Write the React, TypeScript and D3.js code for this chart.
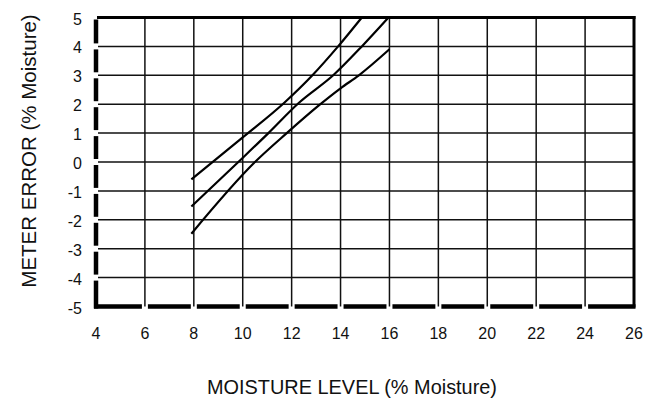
import React from 'react';
import * as d3 from 'd3';

const xTicks = [4, 6, 8, 10, 12, 14, 16, 18, 20, 22, 24, 26];
const yTicks = [-5, -4, -3, -2, -1, 0, 1, 2, 3, 4, 5];

// three error curves
const upperX = [7.9, 10, 11.7, 12.85, 13.9, 14.87];
const upperY = [-0.6, 0.85, 2.05, 3, 4, 5];
const middleX = [7.9, 9.82, 11.05, 12.3, 13.7, 14.87, 15.96];
const middleY = [-1.54, 0, 1, 2.05, 3, 4, 5];
const lowerX = [7.9, 10.5, 11.8, 13.1, 14, 14.75, 16];
const lowerY = [-2.48, 0, 1, 1.95, 2.55, 3, 3.9];

const xTitle = 'MOISTURE LEVEL (% Moisture)';
const yTitle = 'METER ERROR (% Moisture)';

const W = 654;
const H = 404;
const font = '"Liberation Sans", Arial, Helvetica, sans-serif';

const App = () => {
  const x = d3.scaleLinear().domain([4, 26]).range([96, 634]);
  const y = d3.scaleLinear().domain([-5, 5]).range([306.5, 17.5]);

  const line = d3
    .line<[number, number]>()
    .x((d) => x(d[0]))
    .y((d) => y(d[1]))
    .curve(d3.curveMonotoneX);

  const series = [
    d3.zip(upperX, upperY) as [number, number][],
    d3.zip(middleX, middleY) as [number, number][],
    d3.zip(lowerX, lowerY) as [number, number][],
  ];

  const gap = 3;
  const x0 = x(4);
  const x1 = x(26);
  const yTop = y(5);
  const yBot = y(-5);

  // left axis: thick dashes broken at every grid line
  const leftDashes = d3.pairs(yTicks).map(([a, b], i) => {
    const start = y(a) - (i === 0 ? -2 : gap);
    const end = y(b) + (b === 5 ? 2 : gap);
    return [start, end];
  });
  // bottom axis: same idea
  const bottomDashes = d3.pairs(xTicks).map(([a, b], i) => {
    const start = x(a) + (i === 0 ? -2 : gap);
    const end = x(b) - (b === 26 ? -1.5 : gap);
    return [start, end];
  });

  return (
    <svg
      width={W}
      height={H}
      style={{ position: 'absolute', left: 0, top: 0, background: '#fff' }}
    >
      {/* grid */}
      <g stroke="#111" strokeWidth={1.5}>
        {xTicks.slice(1, -1).map((t) => (
          <line key={'vx' + t} x1={x(t)} x2={x(t)} y1={yTop} y2={yBot} />
        ))}
        {yTicks.slice(1, -1).map((t) => (
          <line key={'hy' + t} x1={x0 + 2} x2={x1} y1={y(t)} y2={y(t)} />
        ))}
      </g>

      {/* frame */}
      <line x1={x0 + 1} x2={x1 + 1.5} y1={yTop} y2={yTop} stroke="#000" strokeWidth={3} />
      <line x1={x1} x2={x1} y1={yTop - 1.5} y2={yBot + 1} stroke="#000" strokeWidth={3} />
      <g stroke="#000" strokeWidth={4.5}>
        {leftDashes.map(([s, e], i) => (
          <line key={'ld' + i} x1={x0} x2={x0} y1={s} y2={e} />
        ))}
        {bottomDashes.map(([s, e], i) => (
          <line key={'bd' + i} x1={s} x2={e} y1={yBot} y2={yBot} />
        ))}
      </g>

      {/* data */}
      <g fill="none" stroke="#000" strokeWidth={2.2} strokeLinejoin="round">
        {series.map((s, i) => (
          <path key={'s' + i} d={line(s) || ''} />
        ))}
      </g>

      {/* tick labels */}
      <g fontFamily={font} fontSize={16} fill="#111">
        {yTicks.map((t) => (
          <text key={'yt' + t} x={82} y={y(t) + 7} textAnchor="end">
            {t}
          </text>
        ))}
        {xTicks.map((t) => (
          <text key={'xt' + t} x={x(t)} y={339} textAnchor="middle">
            {t}
          </text>
        ))}
      </g>

      {/* titles */}
      <text
        x={207}
        y={394}
        fontFamily={font}
        fontSize={21}
        fill="#111"
        textLength={290}
        lengthAdjust="spacingAndGlyphs"
      >
        {xTitle}
      </text>
      <text
        transform="translate(36,151) rotate(-90)"
        textAnchor="middle"
        fontFamily={font}
        fontSize={20.5}
        fill="#111"
      >
        {yTitle}
      </text>
    </svg>
  );
};

export default App;
